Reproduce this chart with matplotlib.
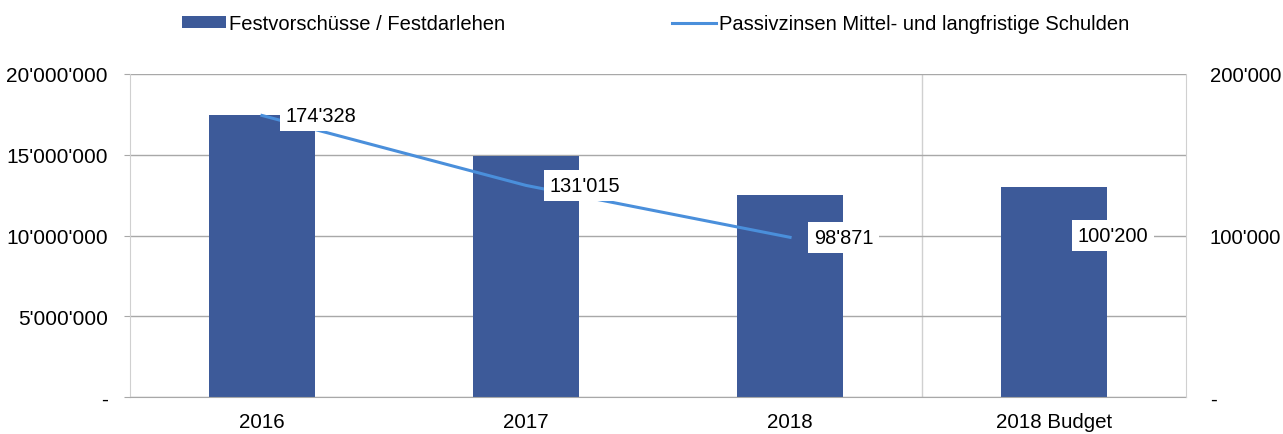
import matplotlib
matplotlib.use("Agg")
import matplotlib.pyplot as plt
from matplotlib.ticker import FuncFormatter

plt.rcParams["font.family"] = ["Liberation Sans", "DejaVu Sans"]

kategorien = ["2016", "2017", "2018", "2018 Budget"]
festvorschuesse = [17450000, 14950000, 12500000, 13000000]
passivzinsen = [174328, 131015, 98871]
zins_labels = [174328, 131015, 98871, 100200]

links_ticks = [0, 5000000, 10000000, 15000000, 20000000]
rechts_ticks = [0, 100000, 200000]

BAR = "#3D5A99"
LINIE = "#4A8FDB"
GRID = "#A8A8A8"


def fmt_ch(v, pos=None):
    if v == 0:
        return "-"
    return f"{int(round(v)):,}".replace(",", "'")


fig = plt.figure(figsize=(12.83, 4.35), dpi=100)
ax = fig.add_axes([0.1013, 0.085, 0.8232, 0.7426])
x = list(range(len(kategorien)))

ax.bar(x, festvorschuesse, width=0.4, color=BAR, zorder=2,
       label="Festvorschüsse / Festdarlehen")
ax.set_xlim(-0.5, 3.5)
ax.set_ylim(0, 20000000)
ax.set_yticks(links_ticks)
ax.yaxis.set_major_formatter(FuncFormatter(fmt_ch))
ax.set_xticks(x)
ax.set_xticklabels(kategorien)
ax.grid(axis="y", color=GRID, linewidth=1.0, zorder=0)
ax.axvline(2.5, color="#D0D0D0", linewidth=1.0, zorder=0)
for s in ["top", "right"]:
    ax.spines[s].set_visible(False)
ax.spines["left"].set_color("#D0D0D0")
ax.spines["bottom"].set_color(GRID)
ax.tick_params(axis="y", length=4, color=GRID, labelsize=15, pad=12)
ax.tick_params(axis="x", length=0, labelsize=14.8, pad=10.5)

ax2 = ax.twinx()
ax2.set_ylim(0, 200000)
ax2.set_yticks(rechts_ticks)
ax2.yaxis.set_major_formatter(FuncFormatter(fmt_ch))
ax2.tick_params(axis="y", length=0, labelsize=14.6, pad=17)
for s in ["top", "left", "bottom"]:
    ax2.spines[s].set_visible(False)
ax2.spines["right"].set_color("#D0D0D0")

ax2.plot(x[:len(passivzinsen)], passivzinsen, color=LINIE, linewidth=2.2,
         zorder=3, label="Passivzinsen Mittel- und langfristige Schulden")
for xi, v in zip(x, zins_labels):
    ax2.annotate(fmt_ch(v), (xi, v), xytext=(17, 0), textcoords="offset points",
                 ha="left", va="center", fontsize=14.4, zorder=4,
                 bbox=dict(boxstyle="square,pad=0.3", fc="white", ec="none"))

h1, l1 = ax.get_legend_handles_labels()
h2, l2 = ax2.get_legend_handles_labels()
fig.legend(h1 + h2, l1 + l2, loc="center", bbox_to_anchor=(0.511, 0.943),
           ncol=2, frameon=False, fontsize=14.5, handlelength=2.2,
           handleheight=0.5, handletextpad=0.15, columnspacing=8.3)

fig.savefig("out.png", dpi=100, facecolor="white")
